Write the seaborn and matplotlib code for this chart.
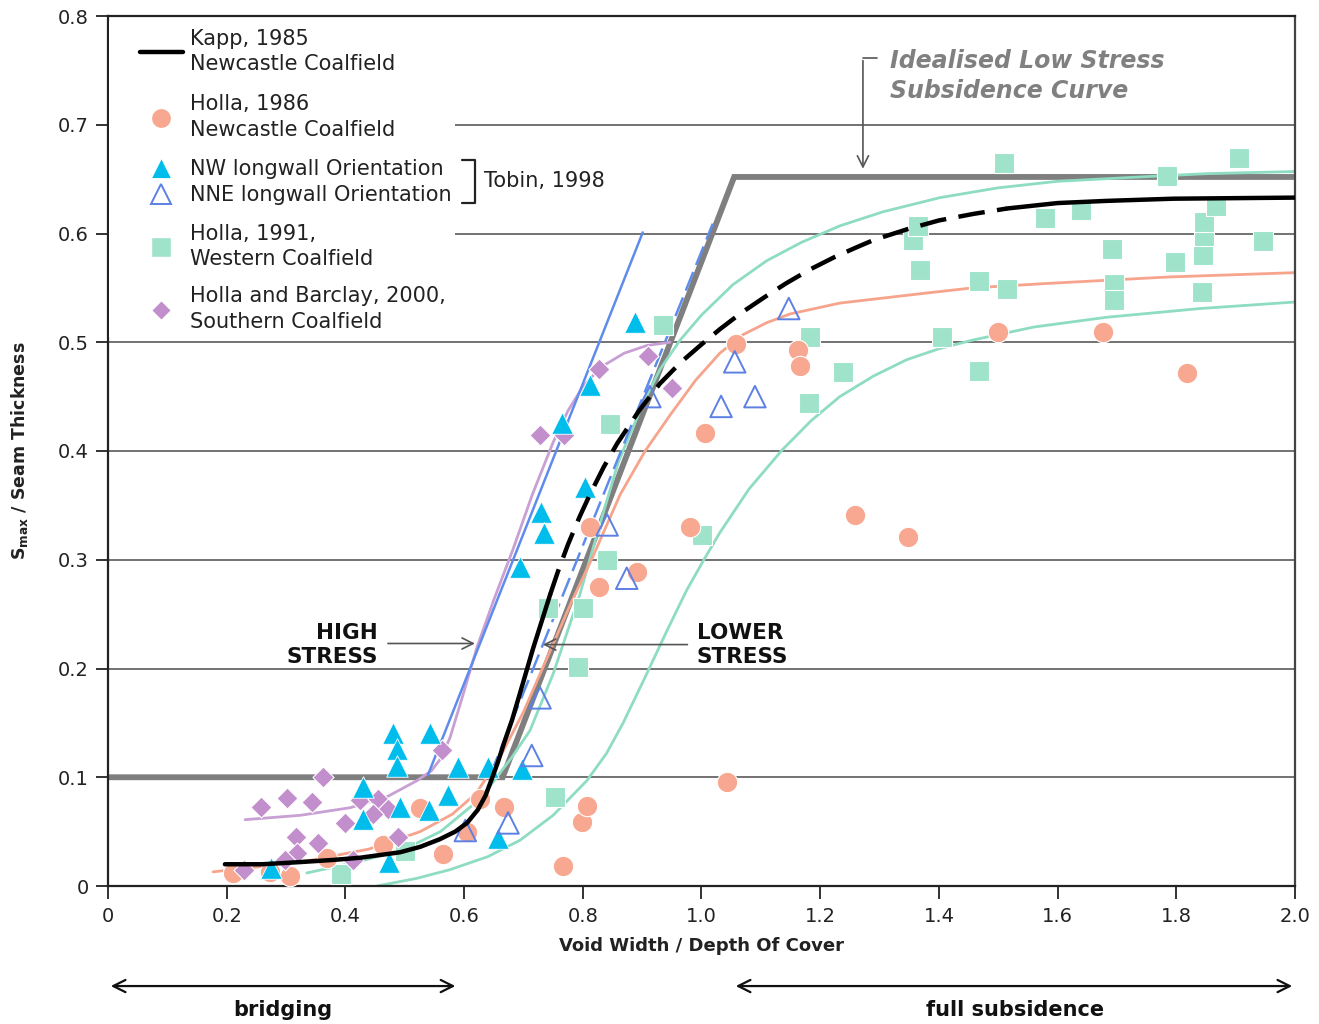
import numpy as np
import pandas as pd
import matplotlib
matplotlib.use("Agg")
import matplotlib.pyplot as plt
import seaborn as sns
from matplotlib.lines import Line2D
from matplotlib.patches import Rectangle

# ---------------- data ----------------
holla86_x = [0.211, 0.273, 0.307, 0.369, 0.463, 0.526, 0.564, 0.605, 0.627, 0.667, 0.767, 0.799, 0.807,
             0.827, 0.812, 0.891, 0.981, 1.006, 1.043, 1.058, 1.163, 1.166, 1.259, 1.348, 1.500, 1.676, 1.818]
holla86_y = [0.012, 0.013, 0.009, 0.026, 0.038, 0.072, 0.029, 0.050, 0.080, 0.073, 0.018, 0.059, 0.074,
             0.275, 0.330, 0.289, 0.330, 0.417, 0.096, 0.498, 0.493, 0.478, 0.341, 0.321, 0.509, 0.509, 0.472]

nw_x = [0.480, 0.543, 0.487, 0.487, 0.590, 0.640, 0.698, 0.430, 0.573, 0.492, 0.430, 0.541, 0.473, 0.275,
        0.657, 0.694, 0.730, 0.735, 0.804, 0.765, 0.812, 0.888]
nw_y = [0.141, 0.141, 0.126, 0.110, 0.109, 0.109, 0.108, 0.091, 0.084, 0.073, 0.062, 0.070, 0.022, 0.017,
        0.044, 0.293, 0.344, 0.325, 0.367, 0.426, 0.461, 0.519]

nne_x = [0.602, 0.674, 0.714, 0.728, 0.841, 0.874, 0.913, 1.056, 1.033, 1.090, 1.147]
nne_y = [0.051, 0.058, 0.120, 0.173, 0.332, 0.283, 0.450, 0.482, 0.441, 0.450, 0.531]

holla91_x = [0.393, 0.500, 0.753, 0.792, 0.800, 0.741, 0.841, 0.846, 1.001, 0.935, 1.183, 1.181, 1.238,
             1.356, 1.365, 1.368, 1.405, 1.468, 1.468, 1.515, 1.510, 1.579, 1.639, 1.692, 1.695, 1.695,
             1.784, 1.798, 1.843, 1.845, 1.847, 1.847, 1.867, 1.906, 1.946]
holla91_y = [0.011, 0.032, 0.082, 0.201, 0.256, 0.256, 0.300, 0.425, 0.323, 0.516, 0.505, 0.444, 0.473,
             0.594, 0.607, 0.566, 0.505, 0.556, 0.474, 0.549, 0.665, 0.614, 0.622, 0.586, 0.554, 0.539,
             0.653, 0.574, 0.546, 0.580, 0.598, 0.611, 0.625, 0.669, 0.593]

hb2000_x = [0.229, 0.258, 0.302, 0.344, 0.362, 0.317, 0.318, 0.298, 0.354, 0.399, 0.413, 0.425, 0.455,
            0.472, 0.447, 0.489, 0.563, 0.728, 0.768, 0.827, 0.910, 0.950]
hb2000_y = [0.015, 0.073, 0.081, 0.077, 0.100, 0.045, 0.030, 0.024, 0.040, 0.058, 0.024, 0.079, 0.080,
            0.071, 0.066, 0.045, 0.125, 0.415, 0.415, 0.475, 0.487, 0.458]

# Kapp 1985 curve (solid / dashed / solid)
kapp_lo_x = [0.197, 0.260, 0.324, 0.380, 0.425, 0.492, 0.526, 0.559, 0.585, 0.605, 0.623, 0.636, 0.647,
             0.657, 0.667, 0.681, 0.694, 0.716, 0.745]
kapp_lo_y = [0.020, 0.020, 0.022, 0.024, 0.026, 0.031, 0.036, 0.043, 0.050, 0.058, 0.070, 0.083, 0.099,
             0.114, 0.131, 0.153, 0.177, 0.218, 0.268]
kapp_mid_x = [0.745, 0.758, 0.775, 0.795, 0.812, 0.835, 0.858, 0.896, 0.930, 0.964, 1.000, 1.031, 1.067,
              1.105, 1.142, 1.183, 1.223, 1.260, 1.290, 1.347, 1.400, 1.458, 1.515]
kapp_mid_y = [0.268, 0.289, 0.314, 0.340, 0.360, 0.385, 0.407, 0.438, 0.462, 0.481, 0.498, 0.512, 0.527,
              0.541, 0.554, 0.567, 0.578, 0.587, 0.594, 0.604, 0.612, 0.618, 0.623]
kapp_hi_x = [1.515, 1.600, 1.683, 1.795, 2.000]
kapp_hi_y = [0.623, 0.628, 0.630, 0.632, 0.633]

# idealised low stress subsidence curve
ideal_x = [0.0, 0.665, 1.055, 2.0]
ideal_y = [0.100, 0.100, 0.652, 0.652]

# trend curves
nw_fit_x = [0.539, 0.901]
nw_fit_y = [0.102, 0.601]
nne_fit_x = [0.644, 1.019]
nne_fit_y = [0.102, 0.609]

hb_fit_x = [0.231, 0.324, 0.408, 0.470, 0.521, 0.545, 0.559, 0.576, 0.595, 0.622, 0.650, 0.682, 0.715,
            0.750, 0.775, 0.800, 0.830, 0.870, 0.908, 0.947]
hb_fit_y = [0.061, 0.065, 0.072, 0.082, 0.097, 0.106, 0.116, 0.136, 0.170, 0.220, 0.263, 0.309, 0.360,
            0.408, 0.437, 0.459, 0.477, 0.490, 0.497, 0.500]

h86_fit_x = [0.177, 0.260, 0.345, 0.440, 0.526, 0.580, 0.620, 0.660, 0.700, 0.740, 0.780, 0.817, 0.863,
             0.905, 0.947, 0.990, 1.031, 1.070, 1.110, 1.149, 1.233, 1.375, 1.457, 1.580, 1.683, 1.786, 2.000]
h86_fit_y = [0.013, 0.018, 0.024, 0.034, 0.050, 0.066, 0.085, 0.118, 0.160, 0.210, 0.260, 0.303, 0.360,
             0.400, 0.433, 0.465, 0.490, 0.507, 0.518, 0.526, 0.536, 0.545, 0.550, 0.554, 0.557, 0.560, 0.564]

teal_up_x = [0.335, 0.420, 0.500, 0.560, 0.627, 0.680, 0.711, 0.750, 0.795, 0.830, 0.860, 0.900, 0.930,
             0.964, 1.000, 1.053, 1.110, 1.169, 1.233, 1.306, 1.402, 1.500, 1.600, 1.739, 1.850, 2.000]
teal_up_y = [0.012, 0.022, 0.034, 0.050, 0.080, 0.118, 0.143, 0.195, 0.268, 0.335, 0.390, 0.442, 0.475,
             0.502, 0.525, 0.553, 0.575, 0.592, 0.607, 0.620, 0.633, 0.642, 0.648, 0.652, 0.655, 0.657]
teal_lo_x = [0.453, 0.520, 0.576, 0.640, 0.694, 0.750, 0.807, 0.840, 0.868, 0.905, 0.942, 0.975, 1.004,
             1.031, 1.080, 1.136, 1.185, 1.233, 1.290, 1.346, 1.400, 1.457, 1.560, 1.683, 1.840, 2.000]
teal_lo_y = [0.000, 0.007, 0.015, 0.027, 0.042, 0.065, 0.097, 0.122, 0.150, 0.192, 0.235, 0.272, 0.300,
             0.325, 0.365, 0.401, 0.428, 0.450, 0.469, 0.484, 0.494, 0.502, 0.514, 0.523, 0.531, 0.537]

x_ticks = [0, 0.2, 0.4, 0.6, 0.8, 1.0, 1.2, 1.4, 1.6, 1.8, 2.0]
x_tick_labels = ["0", "0.2", "0.4", "0.6", "0.8", "1.0", "1.2", "1.4", "1.6", "1.8", "2.0"]
y_ticks = [0, 0.1, 0.2, 0.3, 0.4, 0.5, 0.6, 0.7, 0.8]
y_tick_labels = ["0", "0.1", "0.2", "0.3", "0.4", "0.5", "0.6", "0.7", "0.8"]

# ---------------- style ----------------
SALMON = "#F8A790"
TEAL = "#9EE3CA"
TEAL_LINE = "#8EDCC1"
CYAN = "#00BDEC"
NNE_BLUE = "#5C80E4"
PURPLE = "#C28FCC"
PURPLE_LINE = "#C9A0D4"
BLUE_LINE = "#5F8CEC"
SALMON_LINE = "#F6A48C"
GREY = "#7F7F7F"

sns.set_theme(style="white")
plt.rcParams["font.family"] = ["DejaVu Sans"]

fig = plt.figure(figsize=(13.19, 10.24), dpi=100)
ax = fig.add_axes([108 / 1319, 1 - 886 / 1024, (1295 - 108) / 1319, (886 - 16) / 1024])

# idealised curve
sns.lineplot(x=ideal_x, y=ideal_y, sort=False, estimator=None, color=GREY, lw=4.2, ax=ax, zorder=1.5,
             solid_joinstyle="miter")

# trend curves
for cx, cy, col in [(teal_up_x, teal_up_y, TEAL_LINE), (teal_lo_x, teal_lo_y, TEAL_LINE),
                    (h86_fit_x, h86_fit_y, SALMON_LINE), (hb_fit_x, hb_fit_y, PURPLE_LINE)]:
    sns.lineplot(x=cx, y=cy, sort=False, estimator=None, color=col, lw=2, ax=ax, zorder=2,
                 solid_joinstyle="round")
sns.lineplot(x=nw_fit_x, y=nw_fit_y, sort=False, estimator=None, color=BLUE_LINE, lw=1.8, ax=ax, zorder=2)
sns.lineplot(x=nne_fit_x, y=nne_fit_y, sort=False, estimator=None, color=BLUE_LINE, lw=1.8, ax=ax, zorder=2,
             linestyle=(0, (8, 3)))

# points
sns.scatterplot(x=holla91_x, y=holla91_y, marker="s", s=200, color=TEAL, edgecolor="white", linewidth=0.8,
                ax=ax, zorder=3, legend=False)
sns.scatterplot(x=holla86_x, y=holla86_y, marker="o", s=215, color=SALMON, edgecolor="white", linewidth=0.8,
                ax=ax, zorder=3, legend=False)
sns.scatterplot(x=hb2000_x, y=hb2000_y, marker="D", s=115, color=PURPLE, edgecolor="white", linewidth=0.8,
                ax=ax, zorder=3, legend=False)
sns.scatterplot(x=nw_x, y=nw_y, marker="^", s=240, color=CYAN, edgecolor="white", linewidth=0.6,
                ax=ax, zorder=3, legend=False)
sns.scatterplot(x=nne_x, y=nne_y, marker="^", s=240, color=NNE_BLUE, linewidth=1.4, ax=ax, zorder=3,
                legend=False)
nne_coll = ax.collections[-1]
nne_coll.set_facecolor("none")
nne_coll.set_edgecolor(NNE_BLUE)

# Kapp 1985
sns.lineplot(x=kapp_lo_x, y=kapp_lo_y, sort=False, estimator=None, color="black", lw=3.2, ax=ax, zorder=4,
             solid_joinstyle="round")
sns.lineplot(x=kapp_mid_x, y=kapp_mid_y, sort=False, estimator=None, color="black", lw=3.2, ax=ax, zorder=4,
             linestyle=(0, (6, 2.8)))
sns.lineplot(x=kapp_hi_x, y=kapp_hi_y, sort=False, estimator=None, color="black", lw=3.2, ax=ax, zorder=4,
             solid_joinstyle="round")

# axes
ax.set_xlim(0, 2.0)
ax.set_ylim(0, 0.8)
ax.set_xticks(x_ticks)
ax.set_xticklabels(x_tick_labels)
ax.set_yticks(y_ticks)
ax.set_yticklabels(y_tick_labels)
ax.yaxis.grid(True, color="#5a5a5a", lw=1.2)
ax.xaxis.grid(False)
ax.set_axisbelow(True)
ax.tick_params(axis="both", which="major", bottom=True, left=True, direction="out", length=9, width=1.4,
               color="#333333", labelsize=14, labelcolor="#222222")
ax.tick_params(axis="y", pad=5)
ax.tick_params(axis="x", pad=6)
for side in ["left", "bottom", "top"]:
    ax.spines[side].set_color("#222222")
    ax.spines[side].set_linewidth(1.6)
ax.spines["right"].set_color("#444444")
ax.spines["right"].set_linewidth(1.6)

ax.set_xlabel("Void Width / Depth Of Cover", fontsize=13, fontweight="bold", color="#222222", labelpad=8)
ax.set_ylabel(r"$\mathbf{S_{max}}$ / Seam Thickness", fontsize=12.5, fontweight="bold", color="#222222")
ax.yaxis.set_label_coords(-0.066, 0.5)

# legend background
ax.add_patch(Rectangle((0.002, 0.505), 0.582, 0.29, transform=ax.transData, facecolor="white",
                       edgecolor="none", zorder=6))

lk = dict(frameon=False, fontsize=15, handlelength=2.05, handletextpad=0.33, borderpad=0,
          borderaxespad=0, loc="upper left")
h_kapp = Line2D([], [], color="black", lw=3.2)
h_h86 = Line2D([], [], marker="o", ls="none", markersize=14.5, mfc=SALMON, mec="white")
h_nw = Line2D([], [], marker="^", ls="none", markersize=15, mfc=CYAN, mec="white", mew=0.6)
h_nne = Line2D([], [], marker="^", ls="none", markersize=15, mfc="none", mec=NNE_BLUE, mew=1.4)
h_h91 = Line2D([], [], marker="s", ls="none", markersize=14, mfc=TEAL, mec="white")
h_hb = Line2D([], [], marker="D", ls="none", markersize=10.5, mfc=PURPLE, mec="white")

leg1 = ax.legend([h_kapp, h_h86], ["Kapp, 1985\nNewcastle Coalfield", "Holla, 1986\nNewcastle Coalfield"],
                 bbox_to_anchor=(0.027, 0.985), labelspacing=0.95, **lk)
leg2 = ax.legend([h_nw, h_nne], ["NW longwall Orientation", "NNE longwall Orientation"],
                 bbox_to_anchor=(0.027, 0.8357), labelspacing=0.3, **lk)
leg3 = ax.legend([h_h91, h_hb], ["Holla, 1991,\nWestern Coalfield", "Holla and Barclay, 2000,\nSouthern Coalfield"],
                 bbox_to_anchor=(0.027, 0.7613), labelspacing=0.83, **lk)
for lg in (leg1, leg2, leg3):
    lg.set_zorder(7)
    for t in lg.get_texts():
        t.set_linespacing(1.34)
        t.set_color("#222222")
ax.add_artist(leg1)
ax.add_artist(leg2)

# Tobin bracket
ax.plot([0.596, 0.618, 0.618, 0.596], [0.668, 0.668, 0.628, 0.628], color="#222222", lw=1.6, zorder=8)
ax.text(0.634, 0.648, "Tobin, 1998", fontsize=15, color="#222222", va="center", ha="left", zorder=8)

# Idealised annotation
ax.plot([1.296, 1.272], [0.761, 0.761], color="#555555", lw=1.2, zorder=5)
ax.annotate("", xy=(1.272, 0.657), xytext=(1.272, 0.7615),
            arrowprops=dict(arrowstyle="->", color="#555555", lw=1.2, mutation_scale=20), zorder=5)
ax.text(1.318, 0.745, "Idealised Low Stress\nSubsidence Curve", fontsize=17, fontweight="bold",
        fontstyle="italic", color="#808080", va="center", ha="left", linespacing=1.32)

# stress annotations
ax.annotate("", xy=(0.623, 0.223), xytext=(0.467, 0.223),
            arrowprops=dict(arrowstyle="->", color="#555555", lw=1.2, mutation_scale=20), zorder=5)
ax.text(0.455, 0.222, "HIGH\nSTRESS", fontsize=15.5, fontweight="bold", color="#111111", ha="right",
        va="center", linespacing=1.25)
ax.annotate("", xy=(0.728, 0.222), xytext=(0.981, 0.222),
            arrowprops=dict(arrowstyle="->", color="#555555", lw=1.2, mutation_scale=20), zorder=5)
ax.text(0.992, 0.222, "LOWER\nSTRESS", fontsize=15.5, fontweight="bold", color="#111111", ha="left",
        va="center", linespacing=1.25)

# bottom range arrows
tr = ax.get_xaxis_transform()
ax.annotate("", xy=(0.0, -0.115), xytext=(0.59, -0.115), xycoords=tr, textcoords=tr,
            arrowprops=dict(arrowstyle="<->", color="#111111", lw=1.6, mutation_scale=22), annotation_clip=False)
ax.annotate("", xy=(1.053, -0.115), xytext=(2.0, -0.115), xycoords=tr, textcoords=tr,
            arrowprops=dict(arrowstyle="<->", color="#111111", lw=1.6, mutation_scale=22), annotation_clip=False)
ax.text(0.295, -0.143, "bridging", transform=tr, fontsize=15, fontweight="bold", ha="center", va="center",
        color="#111111")
ax.text(1.528, -0.143, "full subsidence", transform=tr, fontsize=15, fontweight="bold", ha="center",
        va="center", color="#111111")

fig.savefig("out.png", dpi=100, facecolor="white")
